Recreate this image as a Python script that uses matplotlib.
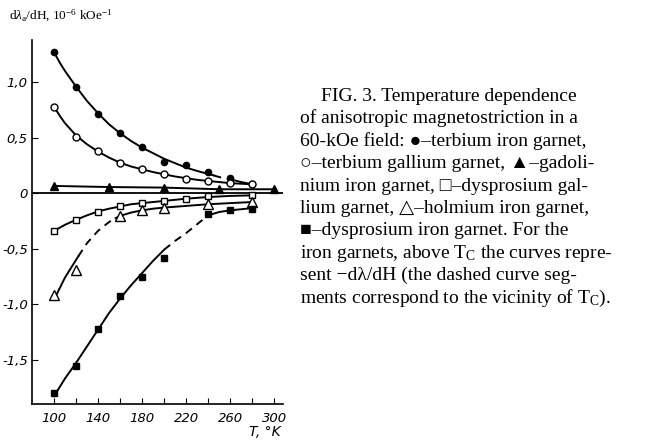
import matplotlib.pyplot as plt

plt.rcParams['mathtext.fontset'] = 'custom'
plt.rcParams['mathtext.rm'] = 'Liberation Serif'
plt.rcParams['mathtext.it'] = 'Liberation Serif:italic'

# --- measured points -------------------------------------------------
T = [100, 120, 140, 160, 180, 200, 220, 240, 260, 280]
tb_fe = [1.27, 0.96, 0.71, 0.54, 0.42, 0.28, 0.25, 0.19, 0.14, 0.08]   # filled circles
tb_ga = [0.78, 0.51, 0.38, 0.27, 0.22, 0.17, 0.13, 0.11, 0.09, 0.08]   # open circles

gd_T = [100, 150, 200, 250, 300]
gd_fe = [0.065, 0.055, 0.05, 0.035, 0.035]                             # filled triangles

dyga_T = [100, 120, 140, 160, 180, 200, 220, 240, 280]
dy_ga = [-0.34, -0.24, -0.17, -0.12, -0.09, -0.07, -0.05, -0.03, -0.02]  # open squares

ho_T = [100, 120, 160, 180, 200, 240, 280]
ho_fe = [-0.92, -0.69, -0.21, -0.15, -0.13, -0.10, -0.08]              # open triangles

dyfe_T = [100, 120, 140, 160, 180, 200, 240, 260, 280]
dy_fe = [-1.80, -1.56, -1.22, -0.93, -0.76, -0.58, -0.19, -0.15, -0.14]  # filled squares

# --- hand-drawn curves (solid / dashed pieces) -------------------------
tbfe_cT1 = [100, 105, 110, 120, 130, 140, 150, 160, 170, 180, 190, 200, 210, 220, 230, 245]
tbfe_c1 = [1.27, 1.18, 1.10, 0.96, 0.83, 0.72, 0.62, 0.54, 0.47, 0.41, 0.36, 0.31, 0.27, 0.23, 0.20, 0.16]
tbfe_cT2 = [245, 250, 262]
tbfe_c2 = [0.16, 0.145, 0.12]
tbfe_cT3 = [262, 270, 280]
tbfe_c3 = [0.12, 0.10, 0.08]

tbga_cT = [100, 105, 110, 120, 130, 140, 150, 160, 170, 180, 190, 200, 210, 220, 230, 240, 250, 260, 270, 280]
tbga_c = [0.78, 0.70, 0.63, 0.52, 0.44, 0.375, 0.32, 0.275, 0.24, 0.215, 0.19, 0.17, 0.15, 0.135,
          0.12, 0.11, 0.10, 0.09, 0.085, 0.08]

dyga_cT = [100, 110, 120, 130, 140, 150, 160, 170, 180, 190, 200, 220, 240, 260, 280]
dyga_c = [-0.34, -0.285, -0.24, -0.20, -0.165, -0.14, -0.12, -0.10, -0.09, -0.08, -0.07, -0.05,
          -0.035, -0.025, -0.02]

ho_cT1 = [100, 110, 122]
ho_c1 = [-0.96, -0.76, -0.57]
ho_cT2 = [122, 130, 140, 150, 156]
ho_c2 = [-0.57, -0.45, -0.34, -0.26, -0.225]
ho_cT3 = [156, 160, 170, 180, 190, 200, 220, 240, 260, 280]
ho_c3 = [-0.225, -0.205, -0.175, -0.155, -0.14, -0.13, -0.115, -0.10, -0.09, -0.08]

dyfe_cT1 = [100, 110, 120, 130, 140, 150, 160, 170, 180, 190, 200]
dyfe_c1 = [-1.83, -1.67, -1.53, -1.38, -1.23, -1.08, -0.95, -0.83, -0.72, -0.61, -0.51]
dyfe_cT2 = [200, 210, 220, 230, 240]
dyfe_c2 = [-0.51, -0.43, -0.36, -0.28, -0.20]
dyfe_cT3 = [240, 250, 260, 270, 280]
dyfe_c3 = [-0.20, -0.17, -0.155, -0.145, -0.135]

y_ticks = [-1.5, -1.0, -0.5, 0, 0.5, 1.0]
y_ticklabels = ['-1,5', '-1,0', '-0,5', '0', '0,5', '1,0']
x_ticks = [100, 140, 180, 220, 260, 300]

caption = [
    "FIG. 3. Temperature dependence",
    "of anisotropic magnetostriction in a",
    "60-kOe field: \u25cf\u2013terbium iron garnet,",
    "\u25cb\u2013terbium gallium garnet, \u25b2\u2013gadoli-",
    "nium iron garnet, \u25a1\u2013dysprosium gal-",
    "lium garnet, \u25b3\u2013holmium iron garnet,",
    "\u25a0\u2013dysprosium iron garnet. For the",
    r"iron garnets, above $\mathrm{T_C}$ the curves repre-",
    "sent \u2212d\u03bb/dH (the dashed curve seg-",
    r"ments correspond to the vicinity of $\mathrm{T_C}$).",
]

fig = plt.figure(figsize=(6.67, 4.4), dpi=100)
ax = fig.add_axes([32 / 667, 36 / 440, 251 / 667, 364 / 440])

lw = 1.4
k = 'black'
# curves
ax.plot(tbfe_cT1, tbfe_c1, color=k, lw=lw)
ax.plot(tbfe_cT2, tbfe_c2, color=k, lw=lw, ls=(0, (4, 3)))
ax.plot(tbfe_cT3, tbfe_c3, color=k, lw=lw)
ax.plot(tbga_cT, tbga_c, color=k, lw=lw)
ax.plot(gd_T, gd_fe, color=k, lw=lw)
ax.plot(dyga_cT, dyga_c, color=k, lw=lw)
ax.plot(ho_cT1, ho_c1, color=k, lw=lw)
ax.plot(ho_cT2, ho_c2, color=k, lw=lw, ls=(0, (4, 3)))
ax.plot(ho_cT3, ho_c3, color=k, lw=lw)
ax.plot(dyfe_cT1, dyfe_c1, color=k, lw=lw)
ax.plot(dyfe_cT2, dyfe_c2, color=k, lw=lw, ls=(0, (4, 3)))
ax.plot(dyfe_cT3, dyfe_c3, color=k, lw=lw)

ax.axhline(0, color=k, lw=1.3)

# markers
ax.plot(T, tb_fe, 'o', ms=4.5, mfc=k, mec=k)
ax.plot(T, tb_ga, 'o', ms=5, mfc='white', mec=k, mew=1.0)
ax.plot(gd_T, gd_fe, '^', ms=6, mfc=k, mec=k)
ax.plot(dyga_T, dy_ga, 's', ms=5, mfc='white', mec=k, mew=1.0)
ax.plot(ho_T, ho_fe, '^', ms=6.5, mfc='white', mec=k, mew=1.0)
ax.plot(dyfe_T, dy_fe, 's', ms=5, mfc=k, mec=k)

ax.set_xlim(80, 308)
ax.set_ylim(-1.90, 1.38)
for s in ['top', 'right']:
    ax.spines[s].set_visible(False)
for s in ['left', 'bottom']:
    ax.spines[s].set_linewidth(1.2)

ax.set_xticks(x_ticks)
ax.set_xticks(range(100, 301, 20), minor=True)
ax.set_yticks(y_ticks)
ax.set_yticklabels(y_ticklabels)
ax.tick_params(direction='in', length=4, width=0.8, labelsize=9.5)
ax.tick_params(axis='x', pad=6)
ax.tick_params(axis='y', pad=3)
ax.tick_params(which='minor', direction='in', length=4, width=0.8)
for lab in ax.get_xticklabels() + ax.get_yticklabels():
    lab.set_fontstyle('italic')

fig.text(9 / 667, 1 - 16 / 440, r"d$\lambda_\mathrm{a}$/dH, 10$^{-6}$ kOe$^{-1}$",
         fontsize=9.5, family='Liberation Serif', va='center', ha='left')
fig.text(265 / 667, 1 - 432 / 440, "T, \u00b0K", fontsize=10, style='italic',
         va='center', ha='center')

for i, line in enumerate(caption):
    x0 = 321 if i == 0 else 300
    fig.text(x0 / 667, 1 - (101 + 22.4 * i) / 440, line, fontsize=14,
             family=['Liberation Serif', 'DejaVu Serif', 'DejaVu Sans'],
             va='baseline', ha='left')

fig.savefig('out.png', dpi=100)
